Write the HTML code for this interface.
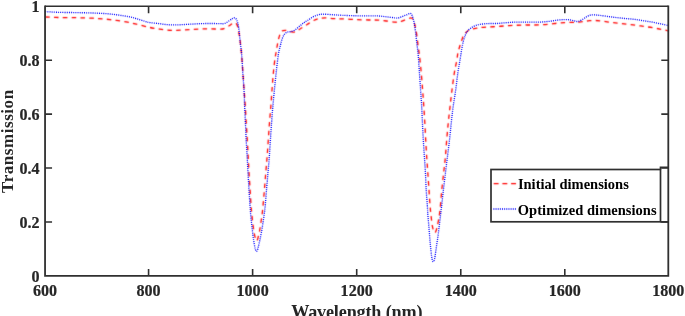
<!DOCTYPE html>
<html><head><meta charset="utf-8"><title>Transmission</title>
<style>html,body{margin:0;padding:0;background:#fff;overflow:hidden}body{width:685px;height:316px;position:relative;font-family:"Liberation Serif",serif}</style>
</head><body>
<svg width="685" height="316" viewBox="0 0 685 316" style="position:absolute;left:0;top:0;will-change:transform;font-family:'Liberation Serif',serif;font-weight:bold">
<rect x="0" y="0" width="685" height="316" fill="#fff"/>
<defs><filter id="sb" filterUnits="userSpaceOnUse" x="0" y="0" width="685" height="316"><feConvolveMatrix order="3" kernelMatrix="0.02 0.1 0.02 0.1 0.52 0.1 0.02 0.1 0.02" divisor="1" edgeMode="none" preserveAlpha="false"/></filter><filter id="sb2" filterUnits="userSpaceOnUse" x="0" y="0" width="685" height="316"><feConvolveMatrix order="3" kernelMatrix="0.0 0.05 0.0 0.05 0.8 0.05 0.0 0.05 0.0" divisor="1" edgeMode="none" preserveAlpha="false"/></filter></defs>
<g filter="url(#sb)"><path d="M45.30,17.00C47.33,17.08 52.55,17.38 57.50,17.50C62.45,17.62 69.17,17.58 75.00,17.70C80.83,17.82 86.67,17.88 92.50,18.20C98.33,18.52 104.15,18.93 110.00,19.60C115.85,20.27 123.22,21.43 127.60,22.20C131.98,22.97 133.40,23.52 136.30,24.20C139.20,24.88 142.72,25.75 145.00,26.30C147.28,26.85 147.70,27.05 150.00,27.50C152.30,27.95 155.88,28.57 158.80,29.00C161.72,29.43 164.58,29.88 167.50,30.10C170.42,30.32 173.38,30.33 176.30,30.30C179.22,30.27 182.08,30.05 185.00,29.90C187.92,29.75 190.88,29.57 193.80,29.40C196.72,29.23 199.58,28.98 202.50,28.90C205.42,28.82 208.38,28.87 211.30,28.90C214.22,28.93 217.88,29.15 220.00,29.10C222.12,29.05 222.47,29.17 224.00,28.60C225.53,28.03 227.82,26.53 229.20,25.70C230.58,24.87 231.42,24.08 232.30,23.60C233.18,23.12 233.83,22.82 234.50,22.80C235.17,22.78 235.75,22.83 236.30,23.50C236.85,24.17 237.38,25.32 237.80,26.80C238.22,28.28 238.48,30.65 238.80,32.40C239.12,34.15 239.43,35.53 239.70,37.30C239.97,39.07 240.15,40.78 240.40,43.00C240.65,45.22 240.93,47.77 241.20,50.60C241.47,53.43 241.72,56.35 242.00,60.00C242.28,63.65 242.55,67.50 242.90,72.50C243.25,77.50 243.72,84.58 244.10,90.00C244.48,95.42 244.85,99.58 245.20,105.00C245.55,110.42 245.85,116.67 246.20,122.50C246.55,128.33 246.97,134.25 247.30,140.00C247.63,145.75 247.92,151.58 248.20,157.00C248.48,162.42 248.68,167.00 249.00,172.50C249.32,178.00 249.77,184.58 250.10,190.00C250.43,195.42 250.72,201.03 251.00,205.00C251.28,208.97 251.52,210.88 251.80,213.80C252.08,216.72 252.35,219.58 252.70,222.50C253.05,225.42 253.52,228.88 253.90,231.30C254.28,233.72 254.70,235.62 255.00,237.00C255.30,238.38 255.43,238.97 255.70,239.60C255.97,240.23 256.30,240.80 256.60,240.80C256.90,240.80 257.23,240.23 257.50,239.60C257.77,238.97 257.87,238.38 258.20,237.00C258.53,235.62 259.05,233.72 259.50,231.30C259.95,228.88 260.45,225.42 260.90,222.50C261.35,219.58 261.87,216.38 262.20,213.80C262.53,211.22 262.53,210.97 262.90,207.00C263.27,203.03 263.92,195.75 264.40,190.00C264.88,184.25 265.35,178.00 265.80,172.50C266.25,167.00 266.68,162.42 267.10,157.00C267.52,151.58 267.90,145.75 268.30,140.00C268.70,134.25 269.08,128.00 269.50,122.50C269.92,117.00 270.38,112.42 270.80,107.00C271.22,101.58 271.57,95.75 272.00,90.00C272.43,84.25 272.90,77.75 273.40,72.50C273.90,67.25 274.55,61.83 275.00,58.50C275.45,55.17 275.65,55.08 276.10,52.50C276.55,49.92 277.12,45.85 277.70,43.00C278.28,40.15 278.92,37.37 279.60,35.40C280.28,33.43 280.85,32.03 281.80,31.20C282.75,30.37 284.10,30.40 285.30,30.40C286.50,30.40 287.75,30.92 289.00,31.20C290.25,31.48 291.53,32.07 292.80,32.10C294.07,32.13 295.60,31.78 296.60,31.40C297.60,31.02 298.17,30.25 298.80,29.80C299.43,29.35 299.50,29.25 300.40,28.70C301.30,28.15 303.02,27.23 304.20,26.50C305.38,25.77 306.07,25.23 307.50,24.30C308.93,23.37 311.05,21.82 312.80,20.90C314.55,19.98 315.97,19.30 318.00,18.80C320.03,18.30 322.37,17.93 325.00,17.90C327.63,17.87 330.88,18.43 333.80,18.60C336.72,18.77 338.72,18.73 342.50,18.90C346.28,19.07 352.12,19.42 356.50,19.60C360.88,19.78 365.28,19.92 368.80,20.00C372.32,20.08 374.68,19.93 377.60,20.10C380.52,20.27 383.40,20.67 386.30,21.00C389.20,21.33 392.95,21.92 395.00,22.10C397.05,22.28 397.33,22.30 398.60,22.10C399.87,21.90 401.30,21.35 402.60,20.90C403.90,20.45 404.98,19.90 406.40,19.40C407.82,18.90 409.93,17.77 411.10,17.90C412.27,18.03 412.70,18.72 413.40,20.20C414.10,21.68 414.73,24.27 415.30,26.80C415.87,29.33 416.32,32.07 416.80,35.40C417.28,38.73 417.75,43.37 418.20,46.80C418.65,50.23 419.00,51.72 419.50,56.00C420.00,60.28 420.68,66.83 421.20,72.50C421.72,78.17 422.18,84.58 422.60,90.00C423.02,95.42 423.33,99.58 423.70,105.00C424.07,110.42 424.47,116.67 424.80,122.50C425.13,128.33 425.38,134.25 425.70,140.00C426.02,145.75 426.35,151.58 426.70,157.00C427.05,162.42 427.42,167.00 427.80,172.50C428.18,178.00 428.63,184.58 429.00,190.00C429.37,195.42 429.67,200.78 430.00,205.00C430.33,209.22 430.62,211.87 431.00,215.30C431.38,218.73 431.90,223.12 432.30,225.60C432.70,228.08 433.10,229.15 433.40,230.20C433.70,231.25 433.85,231.50 434.10,231.90C434.35,232.30 434.63,232.63 434.90,232.60C435.17,232.57 435.43,232.22 435.70,231.70C435.97,231.18 436.20,230.52 436.50,229.50C436.80,228.48 437.03,227.97 437.50,225.60C437.97,223.23 438.83,218.40 439.30,215.30C439.77,212.20 439.88,211.22 440.30,207.00C440.72,202.78 441.23,195.75 441.80,190.00C442.37,184.25 443.10,178.00 443.70,172.50C444.30,167.00 444.90,162.42 445.40,157.00C445.90,151.58 446.22,145.75 446.70,140.00C447.18,134.25 447.75,128.00 448.30,122.50C448.85,117.00 449.38,112.42 450.00,107.00C450.62,101.58 451.27,95.75 452.00,90.00C452.73,84.25 453.62,77.33 454.40,72.50C455.18,67.67 456.10,64.33 456.70,61.00C457.30,57.67 457.47,55.03 458.00,52.50C458.53,49.97 459.27,47.87 459.90,45.80C460.53,43.73 461.17,41.83 461.80,40.10C462.43,38.37 462.97,36.70 463.70,35.40C464.43,34.10 465.32,33.17 466.20,32.30C467.08,31.43 467.90,30.75 469.00,30.20C470.10,29.65 471.53,29.33 472.80,29.00C474.07,28.67 475.33,28.45 476.60,28.20C477.87,27.95 478.58,27.70 480.40,27.50C482.22,27.30 484.85,27.15 487.50,27.00C490.15,26.85 493.38,26.78 496.30,26.60C499.22,26.42 502.08,26.10 505.00,25.90C507.92,25.70 510.88,25.55 513.80,25.40C516.72,25.25 519.58,25.07 522.50,25.00C525.42,24.93 528.38,25.02 531.30,25.00C534.22,24.98 537.08,25.03 540.00,24.90C542.92,24.77 545.87,24.50 548.80,24.20C551.73,23.90 554.97,23.37 557.60,23.10C560.23,22.83 562.20,22.72 564.60,22.60C567.00,22.48 569.60,22.47 572.00,22.40C574.40,22.33 576.95,22.37 579.00,22.20C581.05,22.03 582.55,21.65 584.30,21.40C586.05,21.15 587.75,20.85 589.50,20.70C591.25,20.55 593.05,20.48 594.80,20.50C596.55,20.52 597.67,20.53 600.00,20.80C602.33,21.07 605.88,21.72 608.80,22.10C611.72,22.48 614.58,22.75 617.50,23.10C620.42,23.45 623.38,23.85 626.30,24.20C629.22,24.55 632.08,24.83 635.00,25.20C637.92,25.57 640.87,25.98 643.80,26.40C646.73,26.82 649.68,27.20 652.60,27.70C655.52,28.20 658.68,28.88 661.30,29.40C663.92,29.92 667.13,30.57 668.30,30.80" fill="none" stroke="#ff0000" stroke-width="1.3" stroke-dasharray="4.5 4.3" stroke-linejoin="round"/></g>
<g filter="url(#sb2)"><path d="M45.30,11.60C47.33,11.72 52.55,12.13 57.50,12.30C62.45,12.47 69.17,12.48 75.00,12.60C80.83,12.72 86.67,12.77 92.50,13.00C98.33,13.23 104.15,13.42 110.00,14.00C115.85,14.58 123.22,15.73 127.60,16.50C131.98,17.27 133.40,17.78 136.30,18.60C139.20,19.42 142.72,20.73 145.00,21.40C147.28,22.07 147.70,22.23 150.00,22.60C152.30,22.97 155.88,23.25 158.80,23.60C161.72,23.95 164.58,24.48 167.50,24.70C170.42,24.92 173.38,24.93 176.30,24.90C179.22,24.87 182.08,24.65 185.00,24.50C187.92,24.35 190.88,24.15 193.80,24.00C196.72,23.85 199.58,23.68 202.50,23.60C205.42,23.52 208.38,23.50 211.30,23.50C214.22,23.50 217.80,23.60 220.00,23.60C222.20,23.60 222.97,23.97 224.50,23.50C226.03,23.03 227.90,21.62 229.20,20.80C230.50,19.98 231.42,19.08 232.30,18.60C233.18,18.12 233.75,17.63 234.50,17.90C235.25,18.17 236.10,18.55 236.80,20.20C237.50,21.85 238.12,24.00 238.70,27.80C239.28,31.60 239.80,38.47 240.30,43.00C240.80,47.53 241.28,50.08 241.70,55.00C242.12,59.92 242.42,66.67 242.80,72.50C243.18,78.33 243.70,84.58 244.00,90.00C244.30,95.42 244.37,99.58 244.60,105.00C244.83,110.42 245.13,116.67 245.40,122.50C245.67,128.33 245.90,134.25 246.20,140.00C246.50,145.75 246.90,151.58 247.20,157.00C247.50,162.42 247.70,167.00 248.00,172.50C248.30,178.00 248.67,184.58 249.00,190.00C249.33,195.42 249.73,201.03 250.00,205.00C250.27,208.97 250.35,210.88 250.60,213.80C250.85,216.72 251.18,219.58 251.50,222.50C251.82,225.42 252.15,228.38 252.50,231.30C252.85,234.22 253.23,237.47 253.60,240.00C253.97,242.53 254.38,244.87 254.70,246.50C255.02,248.13 255.20,248.98 255.50,249.80C255.80,250.62 256.17,251.40 256.50,251.40C256.83,251.40 257.18,250.62 257.50,249.80C257.82,248.98 258.00,248.13 258.40,246.50C258.80,244.87 259.37,242.53 259.90,240.00C260.43,237.47 261.08,234.22 261.60,231.30C262.12,228.38 262.55,225.42 263.00,222.50C263.45,219.58 263.95,216.38 264.30,213.80C264.65,211.22 264.73,210.97 265.10,207.00C265.47,203.03 266.02,195.75 266.50,190.00C266.98,184.25 267.53,178.00 268.00,172.50C268.47,167.00 268.90,162.42 269.30,157.00C269.70,151.58 270.02,145.75 270.40,140.00C270.78,134.25 271.20,128.00 271.60,122.50C272.00,117.00 272.33,112.42 272.80,107.00C273.27,101.58 273.83,95.75 274.40,90.00C274.97,84.25 275.55,78.33 276.20,72.50C276.85,66.67 277.58,59.60 278.30,55.00C279.02,50.40 279.82,47.70 280.50,44.90C281.18,42.10 281.77,39.95 282.40,38.20C283.03,36.45 283.52,35.40 284.30,34.40C285.08,33.40 286.07,32.65 287.10,32.20C288.13,31.75 289.18,32.07 290.50,31.70C291.82,31.33 293.42,30.98 295.00,30.00C296.58,29.02 298.47,27.05 300.00,25.80C301.53,24.55 302.95,23.38 304.20,22.50C305.45,21.62 306.07,21.42 307.50,20.50C308.93,19.58 311.05,17.95 312.80,17.00C314.55,16.05 316.25,15.27 318.00,14.80C319.75,14.33 320.67,14.20 323.30,14.20C325.93,14.20 330.60,14.62 333.80,14.80C337.00,14.98 338.72,15.13 342.50,15.30C346.28,15.47 352.12,15.70 356.50,15.80C360.88,15.90 365.28,15.88 368.80,15.90C372.32,15.92 374.68,15.75 377.60,15.90C380.52,16.05 383.40,16.47 386.30,16.80C389.20,17.13 392.95,17.72 395.00,17.90C397.05,18.08 397.33,18.15 398.60,17.90C399.87,17.65 401.30,16.90 402.60,16.40C403.90,15.90 405.13,15.40 406.40,14.90C407.67,14.40 409.25,13.32 410.20,13.40C411.15,13.48 411.47,13.95 412.10,15.40C412.73,16.85 413.43,19.40 414.00,22.10C414.57,24.80 415.03,28.12 415.50,31.60C415.97,35.08 416.35,39.10 416.80,43.00C417.25,46.90 417.77,50.08 418.20,55.00C418.63,59.92 419.00,66.67 419.40,72.50C419.80,78.33 420.23,84.58 420.60,90.00C420.97,95.42 421.30,99.58 421.60,105.00C421.90,110.42 422.12,116.67 422.40,122.50C422.68,128.33 422.97,134.25 423.30,140.00C423.63,145.75 424.05,151.58 424.40,157.00C424.75,162.42 425.10,167.00 425.40,172.50C425.70,178.00 425.88,184.58 426.20,190.00C426.52,195.42 427.02,200.78 427.30,205.00C427.58,209.22 427.65,211.87 427.90,215.30C428.15,218.73 428.52,222.17 428.80,225.60C429.08,229.03 429.32,232.47 429.60,235.90C429.88,239.33 430.17,242.85 430.50,246.20C430.83,249.55 431.28,253.67 431.60,256.00C431.92,258.33 432.12,259.23 432.40,260.20C432.68,261.17 433.00,261.80 433.30,261.80C433.60,261.80 433.90,261.17 434.20,260.20C434.50,259.23 434.72,258.33 435.10,256.00C435.48,253.67 436.02,249.55 436.50,246.20C436.98,242.85 437.53,239.33 438.00,235.90C438.47,232.47 438.88,229.03 439.30,225.60C439.72,222.17 440.13,218.40 440.50,215.30C440.87,212.20 441.02,211.22 441.50,207.00C441.98,202.78 442.73,195.75 443.40,190.00C444.07,184.25 444.83,178.00 445.50,172.50C446.17,167.00 446.73,162.42 447.40,157.00C448.07,151.58 448.85,145.75 449.50,140.00C450.15,134.25 450.70,128.00 451.30,122.50C451.90,117.00 452.37,112.42 453.10,107.00C453.83,101.58 454.90,95.75 455.70,90.00C456.50,84.25 457.18,77.50 457.90,72.50C458.62,67.50 459.35,63.97 460.00,60.00C460.65,56.03 461.23,51.85 461.80,48.70C462.37,45.55 462.83,43.32 463.40,41.10C463.97,38.88 464.58,36.98 465.20,35.40C465.82,33.82 466.30,32.70 467.10,31.60C467.90,30.50 469.02,29.62 470.00,28.80C470.98,27.98 471.90,27.30 473.00,26.70C474.10,26.10 475.43,25.58 476.60,25.20C477.77,24.82 478.18,24.67 480.00,24.40C481.82,24.13 484.78,23.75 487.50,23.60C490.22,23.45 493.38,23.63 496.30,23.50C499.22,23.37 502.08,23.02 505.00,22.80C507.92,22.58 510.88,22.32 513.80,22.20C516.72,22.08 519.58,22.12 522.50,22.10C525.42,22.08 528.38,22.10 531.30,22.10C534.22,22.10 537.08,22.22 540.00,22.10C542.92,21.98 545.87,21.73 548.80,21.40C551.73,21.07 554.97,20.40 557.60,20.10C560.23,19.80 562.53,19.63 564.60,19.60C566.67,19.57 568.27,19.67 570.00,19.90C571.73,20.13 573.60,20.75 575.00,21.00C576.40,21.25 577.02,21.73 578.40,21.40C579.78,21.07 581.88,19.80 583.30,19.00C584.72,18.20 585.72,17.25 586.90,16.60C588.08,15.95 589.08,15.38 590.40,15.10C591.72,14.82 593.20,14.85 594.80,14.90C596.40,14.95 597.67,15.12 600.00,15.40C602.33,15.68 605.88,16.22 608.80,16.60C611.72,16.98 614.58,17.37 617.50,17.70C620.42,18.03 623.38,18.32 626.30,18.60C629.22,18.88 632.08,19.03 635.00,19.40C637.92,19.77 640.87,20.33 643.80,20.80C646.73,21.27 649.68,21.67 652.60,22.20C655.52,22.73 658.68,23.43 661.30,24.00C663.92,24.57 667.13,25.33 668.30,25.60" fill="none" stroke="#0000ff" stroke-width="1.35" stroke-dasharray="1.0 1.15" stroke-linejoin="round"/></g>
<path d="M45.05,5.45 V275.9 H668.3 V5.45" fill="none" stroke="#303030" stroke-width="1.8" stroke-linejoin="miter"/>
<path d="M45.05,6.25 H668.3" fill="none" stroke="#303030" stroke-width="1.6"/>
<path d="M148.57,275.9 V268.9 M148.57,6.25 V13.25" stroke="#303030" stroke-width="1.6" fill="none"/>
<path d="M252.62,275.9 V268.9 M252.62,6.25 V13.25" stroke="#303030" stroke-width="1.6" fill="none"/>
<path d="M356.7,275.9 V268.9 M356.7,6.25 V13.25" stroke="#303030" stroke-width="1.6" fill="none"/>
<path d="M460.78,275.9 V268.9 M460.78,6.25 V13.25" stroke="#303030" stroke-width="1.6" fill="none"/>
<path d="M564.8,275.9 V268.9 M564.8,6.25 V13.25" stroke="#303030" stroke-width="1.6" fill="none"/>
<path d="M45.05,60.18 H52.05 M668.3,60.18 H661.3" stroke="#303030" stroke-width="1.6" fill="none"/>
<path d="M45.05,114.11 H52.05 M668.3,114.11 H661.3" stroke="#303030" stroke-width="1.6" fill="none"/>
<path d="M45.05,168.04 H52.05 M668.3,168.04 H661.3" stroke="#303030" stroke-width="1.6" fill="none"/>
<path d="M45.05,221.97 H52.05 M668.3,221.97 H661.3" stroke="#303030" stroke-width="1.6" fill="none"/>
<text transform="translate(148.57,296.1) scale(1,1.05)" font-size="16.1" text-anchor="middle" fill="#262626" stroke="#262626" stroke-width="0.2">800</text>
<text transform="translate(252.62,296.1) scale(1,1.05)" font-size="16.1" text-anchor="middle" fill="#262626" stroke="#262626" stroke-width="0.2">1000</text>
<text transform="translate(356.7,296.1) scale(1,1.05)" font-size="16.1" text-anchor="middle" fill="#262626" stroke="#262626" stroke-width="0.2">1200</text>
<text transform="translate(460.78,296.1) scale(1,1.05)" font-size="16.1" text-anchor="middle" fill="#262626" stroke="#262626" stroke-width="0.2">1400</text>
<text transform="translate(564.8,296.1) scale(1,1.05)" font-size="16.1" text-anchor="middle" fill="#262626" stroke="#262626" stroke-width="0.2">1600</text>
<text transform="translate(45.05,296.1) scale(1,1.05)" font-size="16.1" text-anchor="middle" fill="#262626" stroke="#262626" stroke-width="0.2">600</text>
<text transform="translate(668.3,296.1) scale(1,1.05)" font-size="16.1" text-anchor="middle" fill="#262626" stroke="#262626" stroke-width="0.2">1800</text>
<text transform="translate(39.5,66.18) scale(1,1.05)" font-size="16.1" text-anchor="end" fill="#262626" stroke="#262626" stroke-width="0.2">0.8</text>
<text transform="translate(39.5,120.11) scale(1,1.05)" font-size="16.1" text-anchor="end" fill="#262626" stroke="#262626" stroke-width="0.2">0.6</text>
<text transform="translate(39.5,174.04) scale(1,1.05)" font-size="16.1" text-anchor="end" fill="#262626" stroke="#262626" stroke-width="0.2">0.4</text>
<text transform="translate(39.5,227.97) scale(1,1.05)" font-size="16.1" text-anchor="end" fill="#262626" stroke="#262626" stroke-width="0.2">0.2</text>
<text transform="translate(39.5,281.9) scale(1,1.05)" font-size="16.1" text-anchor="end" fill="#262626" stroke="#262626" stroke-width="0.2">0</text>
<text transform="translate(39.5,12.25) scale(1,1.05)" font-size="16.1" text-anchor="end" fill="#262626" stroke="#262626" stroke-width="0.2">1</text>
<text transform="translate(356.8,317.6) scale(1,1.002)" font-size="18.2" text-anchor="middle" fill="#262626" textLength="131.3" lengthAdjust="spacing">Wavelength (nm)</text>
<text transform="translate(13.3,141.4) rotate(-90)" font-size="17.0" text-anchor="middle" fill="#262626" textLength="103" lengthAdjust="spacing">Transmission</text>
<rect x="491.0" y="169.5" width="169.5" height="52.30000000000001" fill="#fff" stroke="#303030" stroke-width="1.7"/>
<path d="M660.5,169.5 V167.4 H668.3 M660.5,221.8 H668.3" fill="none" stroke="#303030" stroke-width="1.7"/>
<g filter="url(#sb)"><path d="M493.7,183.7 H516.2" stroke="#ff0000" stroke-width="1.3" stroke-dasharray="4.9 3.8" fill="none"/></g>
<g filter="url(#sb2)"><path d="M493.4,209.0 H516.4" stroke="#0000ff" stroke-width="1.35" stroke-dasharray="1.0 1.15" fill="none"/></g>
<text transform="translate(517.9,189.4) scale(1,1.002)" font-size="14.5" fill="#000" textLength="110.9" lengthAdjust="spacing">Initial dimensions</text>
<text transform="translate(517.8,214.5) scale(1,1.002)" font-size="14.5" fill="#000" textLength="138.8" lengthAdjust="spacing">Optimized dimensions</text>
</svg>
</body></html>
